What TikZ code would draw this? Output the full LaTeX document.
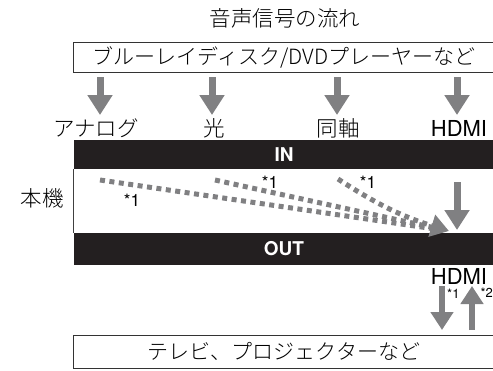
\documentclass[tikz,border=0pt]{standalone}
\usepackage{fontspec}
\setmainfont{TeX Gyre Heros}
\newfontfamily\jp{Noto Sans CJK JP Light}
\usetikzlibrary{arrows.meta}
\definecolor{arrowgray}{RGB}{128,128,130}
\definecolor{bandblack}{RGB}{35,31,32}

\begin{document}
\begin{tikzpicture}[x=1pt,y=-1pt,
  every node/.style={inner sep=0pt},
  plainbox/.style={draw=black!80,line width=0.8pt,minimum width=421pt,
    font=\jp\fontsize{21}{21}\selectfont},
  band/.style={fill=bandblack,minimum width=421pt,text=white,
    font=\bfseries\fontsize{19}{19}\selectfont},
  lbl/.style={font=\jp\fontsize{21.5}{21.5}\selectfont},
  hdmi/.style={font=\fontsize{22}{22}\selectfont},
  note/.style={font=\fontsize{17}{17}\selectfont},
  smallnote/.style={font=\fontsize{13}{13}\selectfont},
  flow/.style={draw=arrowgray,line width=7pt,-{Triangle[width=24pt,length=20pt]}},
  backflow/.style={draw=arrowgray,line width=6pt,-{Triangle[width=22pt,length=18pt]}},
  dotflow/.style={draw=arrowgray,line width=5pt,dash pattern=on 5pt off 4.5pt}]
  \useasboundingbox (0,0) rectangle (493,370);
  \clip (0,0) rectangle (493,370);

  % source and sink
  \node[lbl] (title) at (285,18) {音声信号の流れ};
  \node[plainbox,minimum height=30pt] (player) at (284,57) {ブルーレイディスク/DVDプレーヤーなど};
  \node[plainbox,minimum height=33pt] (tv) at (284,351.5) {テレビ、プロジェクターなど};

  % inputs
  \node[lbl] (analog) at (96,128) {アナログ};
  \node[lbl] (optical) at (214,128) {光};
  \node[lbl] (coax) at (338,128) {同軸};
  \node[hdmi] (hdmiin) at (459,128) {HDMI};
  \foreach \x/\n in {100/analog,212/optical,337/coax,457/hdmiin}
    \draw[flow] (\x,77) -- (\x,115);

  % unit
  \node[band,minimum height=29pt] (in) at (284,154.5) {IN};
  \node[band,minimum height=32pt] (out) at (284,249) {OUT};
  \draw[black!75,line width=1.5pt] (in.south west) -- (out.north west);
  \node[lbl] (unit) at (42,198) {本機};

  \coordinate (merge) at (449,231);
  \coordinate (a) at (100,180);
  \coordinate (b) at (215,180);
  \coordinate (c) at (338,179);
  \draw[dotflow,shorten >=12pt] (a) -- (merge);
  \draw[dotflow,shorten >=12pt] (b) -- (merge);
  \draw[dotflow,-{Triangle[width=22pt,length=18pt]}] (c) to[bend right=8] (merge);
  \node[note] at (132,200) {*1};
  \node[note] at (270,182) {*1};
  \node[note] at (368,182) {*1};
  \draw[flow] (457,182) -- (457,230);

  % output
  \node[hdmi] (hdmiout) at (459,276) {HDMI};
  \draw[backflow] (442,286) -- (442,330);
  \draw[backflow] (472,330) -- (472,286);
  \node[smallnote,anchor=west] at (447,294) {*1};
  \node[smallnote,anchor=east] at (493,293) {*2};
\end{tikzpicture}
\end{document}
